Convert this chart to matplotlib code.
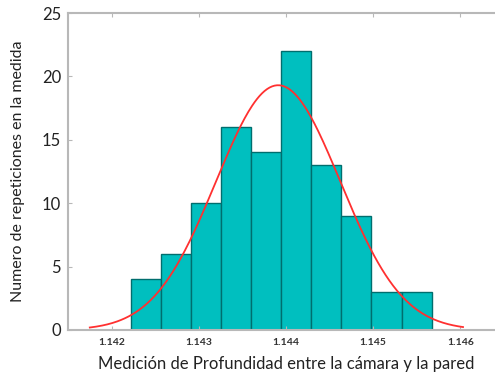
import matplotlib.pyplot as plt
import numpy as np

conteos = [4, 6, 10, 16, 14, 22, 13, 9, 3, 3]
borde_izq = 1.14222
ancho_bin = 0.000345
# ajuste normal
media = 1.14391
sigma = 0.000713
curva_desde = 1.14175
curva_hasta = 1.14603
ticks_x = [1.142, 1.143, 1.144, 1.145, 1.146]
ticks_y = [0, 5, 10, 15, 20, 25]

plt.rcParams['font.family'] = ['Lato', 'DejaVu Sans']

fig = plt.figure(figsize=(4.95, 3.75), dpi=100)
ax = fig.add_axes([68/495, 45/375, 436/495, 317/375])

bordes = borde_izq + ancho_bin*np.arange(len(conteos)+1)
ax.bar(bordes[:-1], conteos, width=ancho_bin, align='edge',
       color='#00bfbf', edgecolor='#006e6e', linewidth=1.0)

xs = np.linspace(curva_desde, curva_hasta, 300)
n = sum(conteos)
ys = n*ancho_bin/(sigma*np.sqrt(2*np.pi))*np.exp(-0.5*((xs-media)/sigma)**2)
ax.plot(xs, ys, color='#ff3030', linewidth=1.3)

ax.set_xlim(1.1415, 1.1465)
ax.set_ylim(0, 25)
ax.set_xticks(ticks_x)
ax.set_xticklabels([f'{t:.3f}' for t in ticks_x], fontsize=7.5, fontweight='bold', color='#333333')
ax.set_yticks(ticks_y)
ax.set_yticklabels([str(t) for t in ticks_y], fontsize=12, color='#222222')
ax.tick_params(direction='in', length=3, color='#b8b8b8', top=True, right=True, pad=6)
ax.tick_params(axis='y', pad=5)
for s in ax.spines.values():
    s.set_color('#b8b8b8')
    s.set_linewidth(1.5)

ax.set_xlabel('Medición de Profundidad entre la cámara y la pared', fontsize=12, color='#222222', labelpad=6)
ax.set_ylabel('Numero de repeticiones en la medida', fontsize=11.5, color='#222222', labelpad=12)

fig.savefig('out.png', dpi=100)
